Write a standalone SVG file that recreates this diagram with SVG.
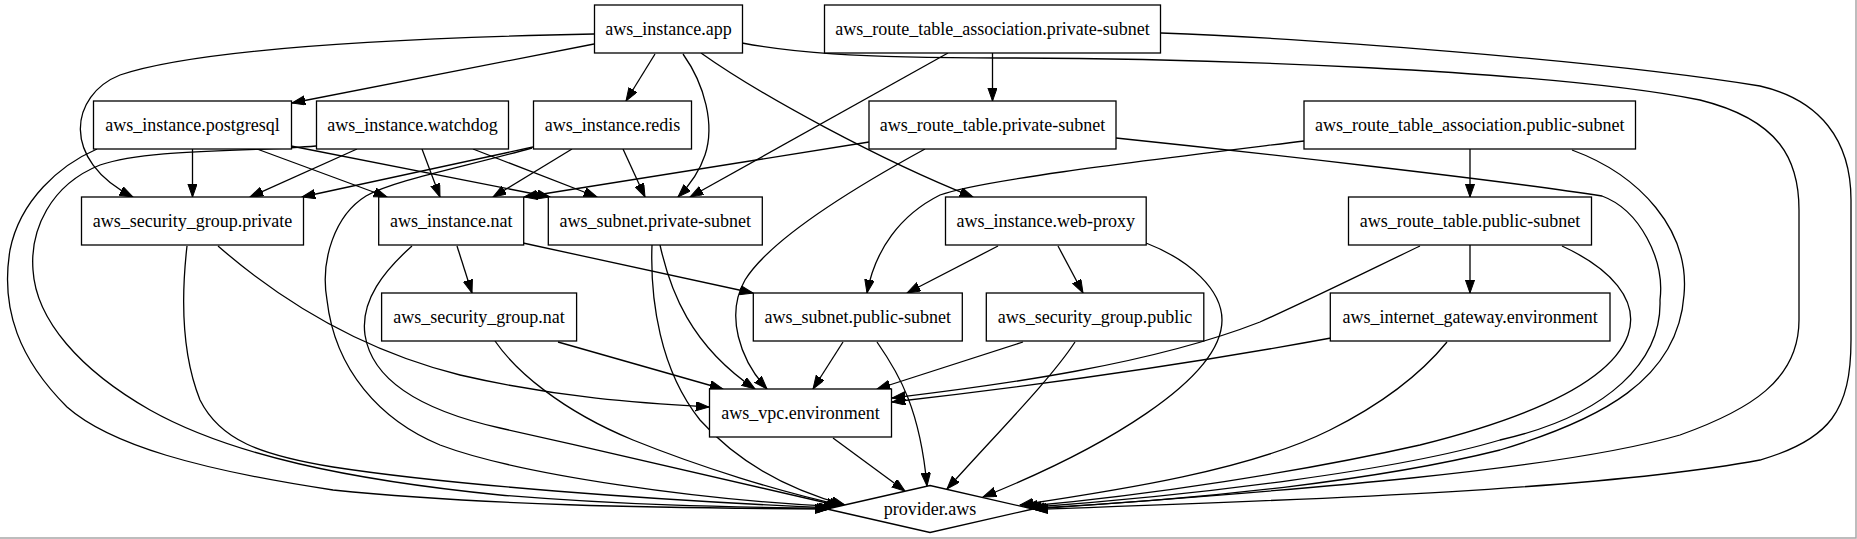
<svg xmlns="http://www.w3.org/2000/svg" width="1857" height="539" viewBox="0 0 1857 539">
<style>
.n rect, .n polygon { fill: #ffffff; stroke: #000; stroke-width: 1.3; }
.n text { font-family: "Liberation Serif", "Times New Roman", serif; font-size: 18px; fill: #000; text-anchor: middle; }
#edges path { fill: none; stroke: #000; stroke-width: 1.3; marker-end: url(#arr); }
</style>
<defs>
<marker id="arr" markerUnits="userSpaceOnUse" markerWidth="14" markerHeight="10" refX="13.3" refY="4.7" orient="auto">
<path d="M0,0 L13.3,4.7 L0,9.4 z" fill="#000" stroke="#000" stroke-width="1"/>
</marker>
</defs>
<rect x="0" y="0" width="1857" height="539" fill="#ffffff"/>
<path d="M0,538 H1856 V0" fill="none" stroke="#a8a8a8" stroke-width="1.5"/>
<g id="edges">
<path d="M594,44 L292,103"/>
<path d="M594,34 C400,38 200,48 120,75 C70,95 60,160 133,197"/>
<path d="M655,54 L626,101"/>
<path d="M683,54 C705,85 715,125 705,155 C700,170 690,185 678,197"/>
<path d="M701,53 C760,95 880,160 973,197"/>
<path d="M742,43 C790,52 850,58 1000,58 C1200,58 1550,70 1700,100 C1780,120 1799,160 1799,210 L1799,320 C1799,380 1750,410 1680,435 C1560,470 1300,490 1033,509"/>
<path d="M992.5,53 L992.5,101"/>
<path d="M948,53 L690,197"/>
<path d="M1161,33 C1300,38 1600,60 1760,86 C1820,100 1851,140 1851,200 L1851,340 C1851,410 1830,440 1760,460 C1600,490 1300,500 1035,509.5"/>
<path d="M192.5,149 L192.5,197"/>
<path d="M257,149 L387,197"/>
<path d="M291,146 L550,197"/>
<path d="M97,149 C60,165 20,200 10,250 C0,310 20,360 67,407 C110,445 200,470 333,490 C480,505 650,508 828,509"/>
<path d="M357,149 L250,197"/>
<path d="M422,149 L440,197"/>
<path d="M473,149 L597,197"/>
<path d="M316,146 C250,152 150,148 100,165 C50,185 30,230 33,270 C36,320 80,370 150,410 C230,455 350,480 500,495 C620,505 720,507 830,508.3"/>
<path d="M533,147 L302,197"/>
<path d="M572,149 L493,197"/>
<path d="M623,149 L645,197"/>
<path d="M532,148 C460,168 395,180 366,196 C335,215 320,260 327,300 C335,370 380,420 440,445 C520,475 700,500 837,506.7"/>
<path d="M869,142 L524,197"/>
<path d="M925,149 C850,190 770,240 745,280 C725,315 740,360 767,389"/>
<path d="M1116,138 C1250,152 1500,180 1602,196 C1640,210 1665,260 1660,300 C1662,360 1610,415 1500,440 C1400,470 1200,495 1028,507.5"/>
<path d="M1470,149 L1470,197"/>
<path d="M1304,141 C1150,160 980,180 940,195 C900,215 875,250 867,293"/>
<path d="M1572,150 C1640,175 1690,230 1684,295 C1678,380 1600,420 1500,450 C1380,480 1200,500 1031,508.3"/>
<path d="M218,246 C280,300 360,350 460,375 C560,398 640,403 709,407"/>
<path d="M187,246 C182,290 180,350 200,400 C220,440 260,455 333,467 C450,485 650,500 832,508"/>
<path d="M457,246 L472,293"/>
<path d="M523,243 L753,293"/>
<path d="M412,246 C385,270 360,300 365,335 C372,380 420,410 500,428 C620,455 750,485 840,506"/>
<path d="M660,245 C670,290 690,345 755,389"/>
<path d="M652,245 C650,300 660,370 700,420 C740,465 790,490 845,505"/>
<path d="M998,246 L907,293"/>
<path d="M1058,246 L1083,293"/>
<path d="M1146,243 C1190,260 1222,290 1222,320 C1222,380 1100,450 983,497"/>
<path d="M1420,246 C1380,265 1320,295 1260,322 C1150,365 1000,385 892,398"/>
<path d="M1470,245 L1470,293"/>
<path d="M1562,246 C1610,268 1640,300 1628,335 C1610,385 1520,420 1420,445 C1300,472 1150,495 1024,506.5"/>
<path d="M558,342 L723,389"/>
<path d="M495,341 C515,370 560,410 633,440 C700,467 780,492 843,505.5"/>
<path d="M843,342 L813,389"/>
<path d="M877,342 C900,375 920,410 927,486"/>
<path d="M1023,342 L877,389"/>
<path d="M1075,342 C1050,380 1000,430 947,489"/>
<path d="M1331,338 C1200,362 1050,384 892,402"/>
<path d="M1447,342 C1420,375 1380,405 1330,430 C1250,470 1120,490 1020,505"/>
<path d="M833,438 L905,491"/>
</g>
<g id="n_app" class="n"><rect x="594.5" y="5" width="148" height="48"/><text x="668.5" y="35">aws_instance.app</text></g>
<g id="n_rta_private" class="n"><rect x="824.5" y="5" width="336" height="48"/><text x="992.5" y="35">aws_route_table_association.private-subnet</text></g>
<g id="n_postgresql" class="n"><rect x="93.5" y="101" width="198" height="48"/><text x="192.5" y="131">aws_instance.postgresql</text></g>
<g id="n_watchdog" class="n"><rect x="316.5" y="101" width="192" height="48"/><text x="412.5" y="131">aws_instance.watchdog</text></g>
<g id="n_redis" class="n"><rect x="533.5" y="101" width="158" height="48"/><text x="612.5" y="131">aws_instance.redis</text></g>
<g id="n_rt_private" class="n"><rect x="869" y="101" width="247" height="48"/><text x="992.5" y="131">aws_route_table.private-subnet</text></g>
<g id="n_rta_public" class="n"><rect x="1304" y="101" width="331.5" height="48"/><text x="1469.7" y="131">aws_route_table_association.public-subnet</text></g>
<g id="n_sg_private" class="n"><rect x="81.5" y="197" width="222" height="48"/><text x="192.5" y="227">aws_security_group.private</text></g>
<g id="n_nat" class="n"><rect x="378.7" y="197" width="145" height="48"/><text x="451.2" y="227">aws_instance.nat</text></g>
<g id="n_subnet_private" class="n"><rect x="548.3" y="197" width="214" height="48"/><text x="655.3" y="227">aws_subnet.private-subnet</text></g>
<g id="n_web_proxy" class="n"><rect x="945.5" y="197" width="200.7" height="48"/><text x="1045.8" y="227">aws_instance.web-proxy</text></g>
<g id="n_rt_public" class="n"><rect x="1348.5" y="197" width="243" height="48"/><text x="1470" y="227">aws_route_table.public-subnet</text></g>
<g id="n_sg_nat" class="n"><rect x="381.6" y="293" width="195" height="48"/><text x="479.1" y="323">aws_security_group.nat</text></g>
<g id="n_subnet_public" class="n"><rect x="753.3" y="293" width="209" height="48"/><text x="857.8" y="323">aws_subnet.public-subnet</text></g>
<g id="n_sg_public" class="n"><rect x="986.3" y="293" width="217.5" height="48"/><text x="1095" y="323">aws_security_group.public</text></g>
<g id="n_igw" class="n"><rect x="1330.3" y="293" width="279.7" height="48"/><text x="1470.1" y="323">aws_internet_gateway.environment</text></g>
<g id="n_vpc" class="n"><rect x="709.5" y="389" width="182" height="48"/><text x="800.5" y="419">aws_vpc.environment</text></g>
<g id="n_provider" class="n"><polygon points="930,485.5 1033,509 930,532.5 827,509"/><text x="930" y="515">provider.aws</text></g>
</svg>
